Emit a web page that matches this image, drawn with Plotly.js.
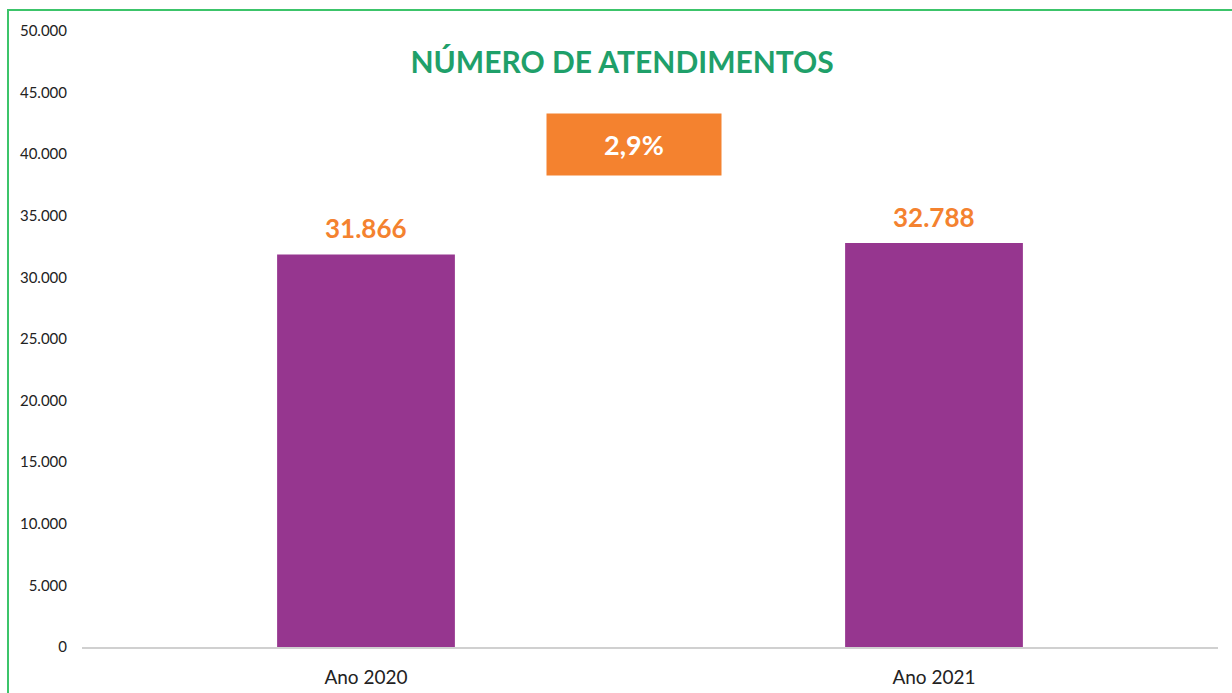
<!DOCTYPE html>
<html>
<head>
<meta charset="utf-8">
<script src="https://cdn.plot.ly/plotly-3.0.1.min.js"></script>
<style>
html,body{margin:0;padding:0;background:#ffffff;}
#wrap{position:relative;width:1232px;height:693px;overflow:hidden;}
#chart{position:absolute;left:0;top:0;width:1232px;height:693px;}
#frame{position:absolute;left:7px;top:9px;width:1300px;height:800px;border-left:2px solid #3cc46a;border-top:2px solid #3cc46a;pointer-events:none;}
</style>
</head>
<body>
<div id="wrap"><div id="chart"></div><div id="frame"></div></div>
<script>
const categories = ["Ano 2020", "Ano 2021"];
const values = [31866, 32788];
const yTicks = [0, 5000, 10000, 15000, 20000, 25000, 30000, 35000, 40000, 45000, 50000];
const chartTitle = "NÚMERO DE ATENDIMENTOS";

const fmt = v => v.toLocaleString('de-DE');
const growth = (values[1] - values[0]) / values[0] * 100;
const growthText = growth.toFixed(1).replace('.', ',') + '%';

const font = "Lato, 'Noto Sans', sans-serif";

const annotations = categories.map((c, i) => ({
  x: c, y: values[i], xref: 'x', yref: 'y',
  text: '<b>' + fmt(values[i]) + '</b>',
  showarrow: false, yanchor: 'bottom', yshift: 8,
  font: {family: font, size: 26, color: '#f4822f'}
}));
annotations.push({
  x: 0.486, y: 0.8157, xref: 'paper', yref: 'paper',
  xanchor: 'center', yanchor: 'middle',
  text: '<b>' + growthText + '</b>', showarrow: false,
  bgcolor: '#f4822f', width: 170, height: 57, borderpad: 2,
  font: {family: font, size: 27, color: '#ffffff'}
});

const data = [{
  type: 'bar', x: categories, y: values,
  marker: {color: '#96368f'}, hoverinfo: 'x+y'
}];

const layout = {
  width: 1232, height: 693,
  margin: {l: 82, r: 14, t: 31, b: 46},
  paper_bgcolor: 'rgba(0,0,0,0)', plot_bgcolor: 'rgba(0,0,0,0)',
  separators: ',.',
  bargap: 0.687,
  showlegend: false,
  title: {text: '<b>' + chartTitle + '</b>', x: 0.505, xanchor: 'center', y: 0.91, yanchor: 'middle',
          font: {family: font, size: 30, color: '#1fa06a'}},
  xaxis: {showline: true, linecolor: '#d0d0d0', linewidth: 2, ticks: '', showgrid: false,
          ticklabelstandoff: 12,
          tickfont: {family: font, size: 19, color: '#222'}, fixedrange: true},
  yaxis: {range: [0, 50000], tickvals: yTicks, tickformat: ',d', showgrid: false, zeroline: false,
          showline: false, ticks: '', ticklabelstandoff: 14,
          tickfont: {family: font, size: 15, color: '#222'}, fixedrange: true},
  annotations: annotations
};

Plotly.newPlot('chart', data, layout, {displayModeBar: false, staticPlot: true});
</script>
</body>
</html>
